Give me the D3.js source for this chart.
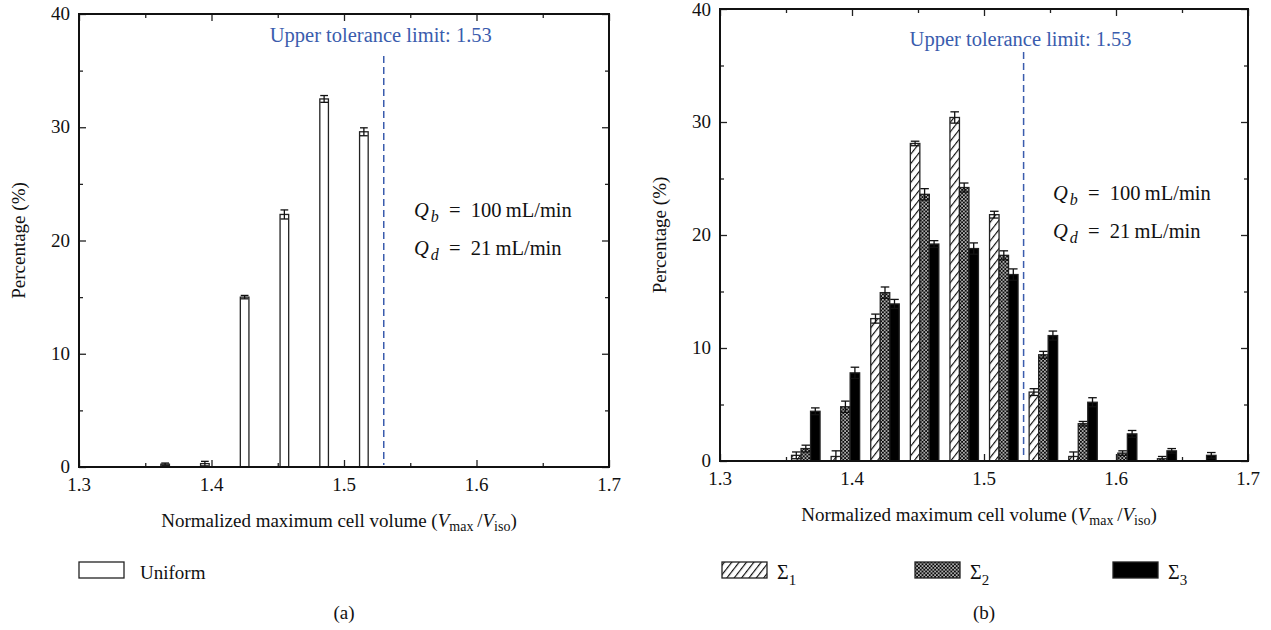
<!DOCTYPE html>
<html>
<head>
<meta charset="utf-8">
<script src="https://cdn.jsdelivr.net/npm/d3@7"></script>
<style>
  body { margin: 0; background: #fff; }
</style>
</head>
<body>
<svg id="chart" width="1271" height="630"></svg>
<script>
// bin centres (normalized max cell volume)
const bins = [1.365, 1.395, 1.425, 1.455, 1.485, 1.515, 1.545, 1.575, 1.605, 1.635, 1.665];
// panel (a): uniform
const uniform    = [0.25, 0.3, 15.0, 22.3, 32.5, 29.6, 0, 0, 0, 0, 0];
const uniformErr = [0.1, 0.2, 0.15, 0.4, 0.3, 0.35, 0, 0, 0, 0, 0];
// panel (b): sigma 1..3
const sigma1    = [0.5, 0.4, 12.6, 28.1, 30.4, 21.8, 6.1, 0.4, 0, 0, 0];
const sigma1Err = [0.3, 0.5, 0.4, 0.2, 0.5, 0.3, 0.3, 0.4, 0, 0, 0];
const sigma2    = [1.1, 4.8, 14.9, 23.6, 24.2, 18.2, 9.4, 3.3, 0.7, 0.2, 0];
const sigma2Err = [0.3, 0.5, 0.5, 0.5, 0.4, 0.4, 0.3, 0.2, 0.2, 0.2, 0];
const sigma3    = [4.4, 7.8, 13.9, 19.2, 18.8, 16.5, 11.1, 5.2, 2.4, 0.9, 0.5];
const sigma3Err = [0.3, 0.5, 0.4, 0.3, 0.5, 0.5, 0.4, 0.4, 0.3, 0.2, 0.25];

const xMajor = [1.3, 1.4, 1.5, 1.6, 1.7];
const xMinor = [1.35, 1.45, 1.55, 1.65];
const yMajor = [0, 10, 20, 30, 40];
const yMinor = [5, 15, 25, 35];
const tolerance = 1.53;

const SERIF = '"Liberation Serif", "Times New Roman", serif';
const svg = d3.select('#chart');
const FS = 19;
const blue = '#3a5cad';

// patterns
const defs = svg.append('defs');
const hatch = defs.append('pattern').attr('id', 'hatch')
  .attr('patternUnits', 'userSpaceOnUse').attr('width', 5.8).attr('height', 10)
  .attr('patternTransform', 'rotate(38)');
hatch.append('rect').attr('width', 5.8).attr('height', 10).attr('fill', '#fff');
hatch.append('line').attr('x1', 0.6).attr('y1', 0).attr('x2', 0.6).attr('y2', 10)
  .attr('stroke', '#000').attr('stroke-width', 1.1);
const cross = defs.append('pattern').attr('id', 'cross')
  .attr('patternUnits', 'userSpaceOnUse').attr('width', 3.6).attr('height', 3.6);
cross.append('rect').attr('width', 3.6).attr('height', 3.6).attr('fill', '#0a0a0a');
cross.append('circle').attr('cx', 0.9).attr('cy', 0.9).attr('r', 0.8).attr('fill', '#fff');
cross.append('circle').attr('cx', 2.7).attr('cy', 2.7).attr('r', 0.8).attr('fill', '#fff');

function label(g, x, y, size, fill) {
  return g.append('text').attr('x', x).attr('y', y)
    .style('font-family', SERIF).style('font-size', size + 'px').attr('fill', fill || '#111');
}

function panel(box, opts) {
  const x = d3.scaleLinear().domain([1.3, 1.7]).range([box.x0, box.x1]);
  const y = d3.scaleLinear().domain([0, 40]).range([box.y1, box.y0]);
  const g = svg.append('g');

  // ticks on all four sides, pointing in
  const ax = [
    [d3.axisBottom(x), box.y1, 'x'],
    [d3.axisTop(x), box.y0, 'x'],
    [d3.axisLeft(y), box.x0, 'y'],
    [d3.axisRight(y), box.x1, 'y']
  ];
  ax.forEach(([a, pos, dim]) => {
    const tr = dim === 'x' ? `translate(0,${pos})` : `translate(${pos},0)`;
    const sc = dim === 'x' ? xMajor : yMajor;
    const mn = dim === 'x' ? xMinor : yMinor;
    g.append('g').attr('transform', tr)
      .call(a.tickValues(sc).tickSize(-7).tickFormat(''))
      .call(s => s.select('.domain').remove());
    g.append('g').attr('transform', tr)
      .call(a.tickValues(mn).tickSize(-4).tickFormat(''))
      .call(s => s.select('.domain').remove());
  });
  g.selectAll('.tick line').attr('stroke', '#222').attr('stroke-width', 1.3);
  g.selectAll('.tick text').remove();

  // tick labels
  xMajor.forEach(d => label(g, x(d), box.y1 + 24, FS).attr('text-anchor', 'middle').text(d.toFixed(1)));
  yMajor.forEach(d => label(g, box.x0 - 9, Math.max(y(d) + 6, 16), FS).attr('text-anchor', 'end').text(d));

  // axis titles
  label(g, 0, 0, FS)
    .attr('transform', `translate(${box.x0 - 54},${(box.y0 + box.y1) / 2}) rotate(-90)`)
    .attr('text-anchor', 'middle').text('Percentage (%)');
  const xt = label(g, (box.x0 + box.x1) / 2 - 5, box.y1 + 60, FS).attr('text-anchor', 'middle');
  xt.append('tspan').text('Normalized maximum cell volume (');
  xt.append('tspan').style('font-style', 'italic').text('V');
  xt.append('tspan').style('font-size', '14px').attr('dy', 4).text('max');
  xt.append('tspan').attr('dy', -4).text('\u2009/');
  xt.append('tspan').style('font-style', 'italic').text('V');
  xt.append('tspan').style('font-size', '14px').attr('dy', 4).text('iso');
  xt.append('tspan').attr('dy', -4).text(')');

  // bars
  const bw = opts.barW;
  const half = x(1.3 + bw / 2) - x(1.3);
  opts.series.forEach((s, k) => {
    const off = (k - (opts.series.length - 1) / 2) * bw;
    const data = bins.map((b, i) => ({c: b, v: s.values[i], e: s.err[i]})).filter(d => d.v > 0);
    const sg = g.append('g');
    sg.selectAll('rect').data(data).enter().append('rect')
      .attr('x', d => x(d.c + off) - half)
      .attr('width', half * 2)
      .attr('y', d => y(d.v))
      .attr('height', d => y(0) - y(d.v))
      .attr('fill', s.fill).attr('stroke', '#222').attr('stroke-width', 1.3);
    const eb = sg.selectAll('.eb').data(data.filter(d => d.e > 0)).enter().append('g');
    const cw = half * 0.9;
    const lo = d => y(Math.max(0, d.v - d.e));
    eb.append('line')
      .attr('x1', d => x(d.c + off)).attr('x2', d => x(d.c + off))
      .attr('y1', lo).attr('y2', d => y(d.v + d.e));
    eb.append('line')
      .attr('x1', d => x(d.c + off) - cw).attr('x2', d => x(d.c + off) + cw)
      .attr('y1', d => y(d.v + d.e)).attr('y2', d => y(d.v + d.e));
    eb.append('line')
      .attr('x1', d => x(d.c + off) - cw).attr('x2', d => x(d.c + off) + cw)
      .attr('y1', lo).attr('y2', lo);
    eb.selectAll('line').attr('stroke', '#111').attr('stroke-width', 1.3);
  });

  // frame
  g.append('rect').attr('x', box.x0).attr('y', box.y0)
    .attr('width', box.x1 - box.x0).attr('height', box.y1 - box.y0)
    .attr('fill', 'none').attr('stroke', '#111').attr('stroke-width', 2);

  // tolerance line
  g.append('line').attr('x1', x(tolerance)).attr('x2', x(tolerance))
    .attr('y1', box.y0 + opts.dashTop).attr('y2', box.y1 - 2)
    .attr('stroke', blue).attr('stroke-width', 1.5).attr('stroke-dasharray', '7,4');
  label(g, x(tolerance) - 3, box.y0 + opts.labelY, 20.5, blue)
    .attr('text-anchor', 'middle').text('Upper tolerance limit: ' + tolerance);

  // flow rates
  [['b', '100'], ['d', '21']].forEach(([sub, val], i) => {
    const t = label(g, opts.qx, opts.qy + i * 38, 20.5);
    t.append('tspan').style('font-style', 'italic').text('Q');
    t.append('tspan').style('font-style', 'italic').style('font-size', '16px').attr('dy', 5).attr('dx', 2).text(sub);
    t.append('tspan').attr('dy', -5).text('\u2002=\u2002' + val + '\u2009mL/min');
  });

  // legend
  opts.series.forEach((s, k) => {
    const lx = opts.legX[k];
    g.append('rect').attr('x', lx).attr('y', 562).attr('width', 45).attr('height', 16)
      .attr('fill', s.fill).attr('stroke', '#222').attr('stroke-width', 1.3);
    const t = label(g, lx + opts.legGap, 579, s.sub ? 20 : FS);
    t.append('tspan').text(s.name);
    if (s.sub) t.append('tspan').style('font-size', '15px').attr('dy', 6).text(s.sub);
  });

  label(g, (box.x0 + box.x1) / 2, 619, FS).attr('text-anchor', 'middle').text(opts.tag);
}

panel({x0: 79, x1: 609, y0: 14, y1: 467}, {
  barW: 0.0065,
  series: [{name: 'Uniform', values: uniform, err: uniformErr, fill: '#fff'}],
  legX: [79], legGap: 61,
  dashTop: 42, labelY: 28,
  qx: 414, qy: 217,
  tag: '(a)'
});

panel({x0: 720, x1: 1248, y0: 9, y1: 461}, {
  barW: 0.0072,
  series: [
    {name: '\u03A3', sub: '1', values: sigma1, err: sigma1Err, fill: 'url(#hatch)'},
    {name: '\u03A3', sub: '2', values: sigma2, err: sigma2Err, fill: 'url(#cross)'},
    {name: '\u03A3', sub: '3', values: sigma3, err: sigma3Err, fill: '#000'}
  ],
  legX: [722, 915, 1113], legGap: 55,
  dashTop: 43, labelY: 37,
  qx: 1053, qy: 200,
  tag: '(b)'
});
</script>
</body>
</html>
